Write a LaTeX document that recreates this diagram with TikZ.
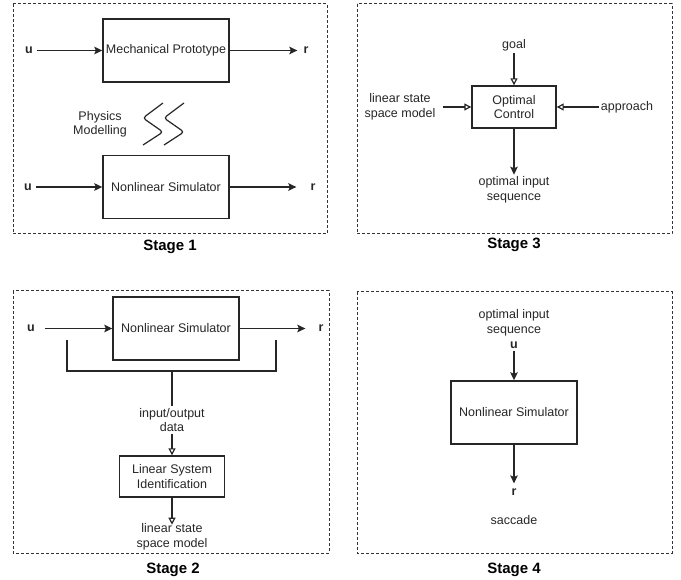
\documentclass[tikz,border=0pt]{standalone}
\usepackage{fontspec}
\setmainfont{Liberation Sans}
\usetikzlibrary{arrows.meta}
\begin{document}
\begin{tikzpicture}[x=1pt,y=-1pt,
  every node/.style={font=\fontsize{12.5}{14.5}\selectfont, text=black!85},
  panel/.style={draw=black!80, line width=1pt, dash pattern=on 3pt off 2pt},
  blockbox/.style={draw=black!85, line width=1.4pt, minimum width=126pt, minimum height=63pt, inner sep=2pt, align=center},
  txt/.style={align=center, inner sep=2pt},
  sym/.style={font=\fontsize{12.5}{14.5}\selectfont\bfseries, inner sep=3pt},
  stagelbl/.style={font=\fontsize{15}{18}\selectfont\bfseries, text=black},
  conn/.style={draw=black!85, line width=1.4pt},
  fillarr/.style={conn, -{Stealth[length=8pt,width=7.5pt,inset=1.5pt]}},
  openarr/.style={conn, -{Triangle[open,length=7pt,width=7pt,line width=1.2pt]}}
]
\useasboundingbox (0,0) rectangle (681,580);
% ---- panels
\draw[panel] (13,4) rectangle (327,234);
\draw[panel] (357,4) rectangle (672,234);
\draw[panel] (13,291) rectangle (329,553);
\draw[panel] (357,292) rectangle (672,553);

% ---- Stage 1
\node[blockbox] (mp) at (166,50.5) {Mechanical Prototype};
\node[sym] (u1) at (29,50.5) {u};
\node[sym] (r1) at (306,50.5) {r};
\draw[fillarr, shorten <=1pt] (u1.east) -- (mp.west);
\draw[fillarr, shorten >=3pt] (mp.east) -- (r1.west);
\node[txt] (pm) at (100,124.5) {Physics\\Modelling};
\draw[conn, line width=1.2pt, rounded corners=3pt] (163,103) -- (143,118) -- (163,132) -- (143,145);
\draw[conn, line width=1.2pt, rounded corners=3pt] (184,103) -- (164,118) -- (184,132) -- (164,145);
\node[blockbox] (ns1) at (166,187) {Nonlinear Simulator};
\node[sym] (u2) at (28,187) {u};
\node[sym] (r2) at (313,187) {r};
\draw[fillarr, shorten <=1pt] (u2.east) -- (ns1.west);
\draw[fillarr, shorten >=11pt] (ns1.east) -- (r2.west);
\node[stagelbl] (s1) at (170,247) {Stage 1};

% ---- Stage 2
\node[blockbox] (ns2) at (176,328.5) {Nonlinear Simulator};
\node[sym] (u3) at (31,328.5) {u};
\node[sym] (r3) at (321,328.5) {r};
\draw[fillarr, shorten <=7pt] (u3.east) -- (ns2.west);
\draw[fillarr, shorten >=10pt] (ns2.east) -- (r3.west);
\coordinate (bl) at (67,340);
\coordinate (br) at (276,340);
\coordinate (bm) at (172,371);
\draw[conn] (bl) |- (bm) -| (br);
\node[txt] (io) at (172,420) {input/output\\data};
\draw[conn] (bm) -- (io.north -| bm);
\node[blockbox, minimum width=105pt, minimum height=41pt] (lsi) at (172,476.5) {Linear System\\Identification};
\draw[openarr] (io.south -| lsi.north) -- (lsi.north);
\node[txt] (lssm2) at (172,537) {linear state\\space model};
\draw[openarr, shorten >=-3pt] (lsi.south) -- (lssm2.north);
\node[stagelbl] (s2) at (173,570) {Stage 2};

% ---- Stage 3
\node[blockbox, minimum width=84pt, minimum height=42pt] (oc) at (514,107) {Optimal\\Control};
\node[txt] (goal) at (514,45) {goal};
\draw[openarr] (goal.south) -- (oc.north);
\node[txt] (lssm3) at (400,107) {linear state\\space model};
\draw[openarr, shorten <=5pt] (lssm3.east) -- (oc.west);
\node[txt] (appr) at (627,107) {approach};
\draw[openarr] (appr.west) -- (oc.east);
\node[txt] (ois3) at (514,190) {optimal input\\sequence};
\draw[fillarr] (oc.south) -- (ois3.north);
\node[stagelbl] (s3) at (514,245) {Stage 3};

% ---- Stage 4
\node[txt] (ois4) at (514,323) {optimal input\\sequence};
\node[sym, inner sep=2pt] (u4) at (514,345) {u};
\node[blockbox] (ns4) at (514,412.5) {Nonlinear Simulator};
\draw[fillarr] (u4.south) -- (ns4.north);
\node[sym] (r4) at (514,492) {r};
\draw[fillarr, shorten >=2pt] (ns4.south) -- (r4.north);
\node[txt] (sac) at (514,520) {saccade};
\node[stagelbl] (s4) at (514,570) {Stage 4};
\end{tikzpicture}
\end{document}
